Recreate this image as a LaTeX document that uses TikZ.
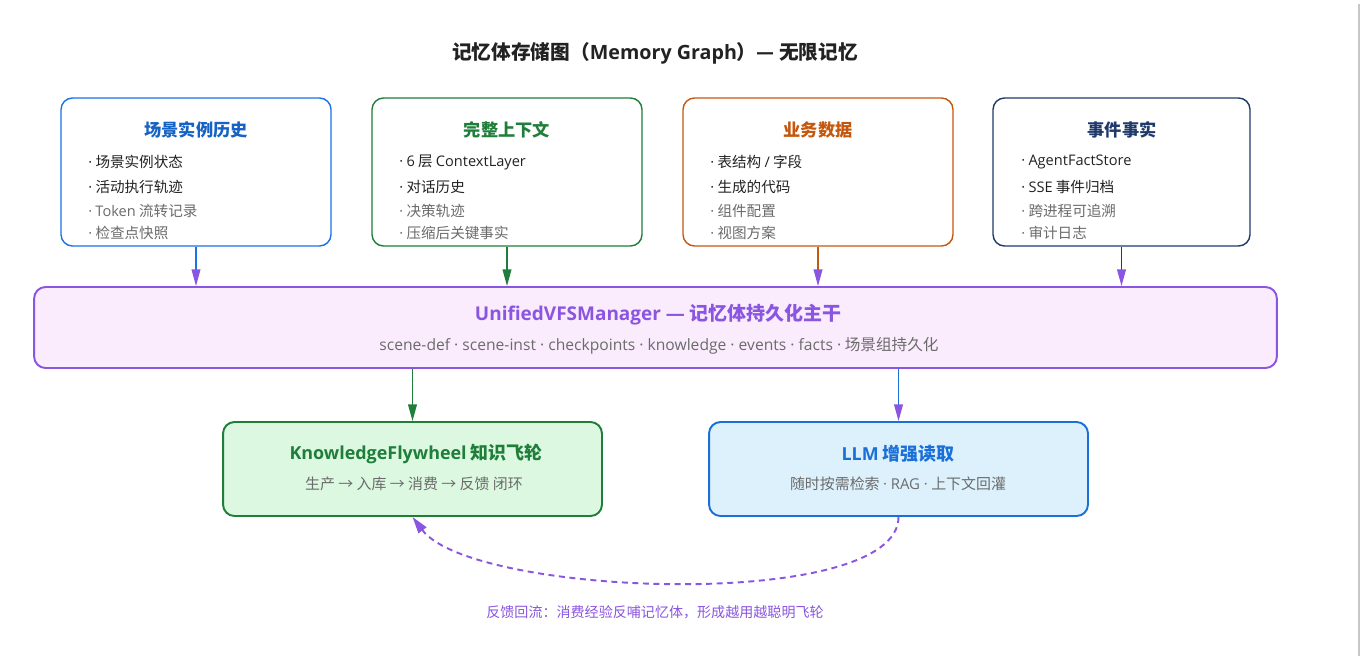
\documentclass[tikz,border=0pt]{standalone}
\usepackage{fontspec}
\setmainfont{Noto Sans CJK SC}
\newfontfamily\lat{Open Sans}
\usepackage{xcolor}
\usetikzlibrary{arrows.meta,positioning}

\definecolor{ink}{HTML}{222222}
\definecolor{mute}{HTML}{6B6B6B}
\definecolor{histC}{HTML}{1A73E8}
\definecolor{ctxC}{HTML}{1E7E3A}
\definecolor{bizC}{HTML}{C5580F}
\definecolor{factC}{HTML}{1F3A6B}
\definecolor{vfsC}{HTML}{8A55E0}
\definecolor{vfsF}{HTML}{FAEBFD}
\definecolor{flyF}{HTML}{DCF8E1}
\definecolor{llmC}{HTML}{1A6FD8}
\definecolor{llmF}{HTML}{DDF1FC}

% narrow latin middle dot
\newcommand{\md}{{\lat ·}}

\begin{document}
\begin{tikzpicture}[x=0.02cm,y=-0.02cm,
  card/.style={draw, rounded corners=6.5pt, line width=0.8pt, fill=white,
    minimum height=2.96cm, inner sep=0pt},
  ttl/.style={font=\bfseries\fontsize{9.8pt}{11pt}\selectfont, inner sep=0pt},
  item/.style={anchor=west, font=\fontsize{8.3pt}{10pt}\selectfont, inner sep=0pt},
  sub/.style={text=mute, font=\fontsize{8.5pt}{10pt}\selectfont, inner sep=0pt},
  feed/.style={line width=0.8pt},
  tipP/.style={-{Triangle[length=9.5pt,width=5pt,color=vfsC]}},
  tipG/.style={-{Triangle[length=9.5pt,width=5pt,color=ctxC]}},
  loopback/.style={vfsC, line width=1.1pt, dash pattern=on 3.4pt off 2.6pt}]

\useasboundingbox (0,0) rectangle (1364,656);
\fill[white] (0,0) rectangle (1364,656);
\draw[black!22, line width=0.6pt] (1359,4) -- (1359,656);

% title
\node[font=\bfseries\fontsize{11.2pt}{13pt}\selectfont, text=ink] (title) at (655,53) {记忆体存储图（{\lat Memory Graph}）— 无限记忆};

% four sources
\node[card, draw=histC, minimum width=5.4cm] (hist) at (196,172) {};
\node[card, draw=ctxC, minimum width=5.4cm] (ctx) at (507,172) {};
\node[card, draw=bizC, minimum width=5.4cm] (biz) at (818,172) {};
\node[card, draw=factC, minimum width=5.14cm] (fact) at (1121.5,172) {};

\node[ttl, text=histC!85!black] (histT) at (196,130) {场景实例历史};
\node[ttl, text=ctxC] (ctxT) at (507,130) {完整上下文};
\node[ttl, text=bizC] (bizT) at (818,130) {业务数据};
\node[ttl, text=factC] (factT) at (1122,130) {事件事实};

\foreach \t/\y/\c [count=\i] in {场景实例状态/162/ink, 活动执行轨迹/187/ink, {{\lat Token} 流转记录}/211/mute, 检查点快照/233/mute}
  \node[item, text=\c] (hist\i) at (88,\y) {\md\ \t};
\foreach \t/\y/\c [count=\i] in {{{\lat 6} 层 {\lat ContextLayer}}/162/ink, 对话历史/187/ink, 决策轨迹/211/mute, 压缩后关键事实/233/mute}
  \node[item, text=\c] (ctx\i) at (399,\y) {\md\ \t};
\foreach \t/\y/\c [count=\i] in {{表结构 {\lat /} 字段}/162/ink, 生成的代码/187/ink, 组件配置/211/mute, 视图方案/233/mute}
  \node[item, text=\c] (biz\i) at (710,\y) {\md\ \t};
\foreach \t/\y/\c [count=\i] in {{{\lat AgentFactStore}}/162/ink, {{\lat SSE} 事件归档}/187/ink, 跨进程可追溯/211/mute, 审计日志/233/mute}
  \node[item, text=\c] (fact\i) at (1021,\y) {\md\ \t};

% backbone
\node[card, draw=vfsC, fill=vfsF, line width=1.1pt, minimum width=24.86cm, minimum height=1.62cm] (vfs) at (655.5,327.5) {};
\node[ttl, text=vfsC, font=\bfseries\fontsize{10.8pt}{12pt}\selectfont] (vfsT) at (658,315) {{\lat UnifiedVFSManager —} 记忆体持久化主干};
\node[sub, font=\fontsize{8.9pt}{10pt}\selectfont] (vfsS) at (659,346) {{\lat scene-def \md\ scene-inst \md\ checkpoints \md\ knowledge \md\ events \md\ facts \md} 场景组持久化};

\foreach \n/\c/\s in {hist/histC/tipP, ctx/ctxC/tipG, biz/bizC/tipP, fact/factC/tipP}
  \draw[feed, \c, \s] (\n.south) -- (\n.south |- vfs.north);

% consumers
\node[card, draw=ctxC, fill=flyF, line width=1.1pt, minimum width=7.58cm, minimum height=1.88cm] (fly) at (412.5,469) {};
\node[ttl, text=ctxC, font=\bfseries\fontsize{10.2pt}{12pt}\selectfont] (flyT) at (416,454) {{\lat KnowledgeFlywheel} 知识飞轮};
\node[sub] (flyS) at (414,484) {生产 → 入库 → 消费 → 反馈 闭环};

\node[card, draw=llmC, fill=llmF, line width=1.1pt, minimum width=7.58cm, minimum height=1.88cm] (llm) at (898.5,469) {};
\node[ttl, text=llmC, font=\bfseries\fontsize{10.2pt}{12pt}\selectfont] (llmT) at (898,454) {{\lat LLM} 增强读取};
\node[sub] (llmS) at (898,484) {随时按需检索 {\lat \md\ RAG \md} 上下文回灌};

\draw[feed, ctxC, tipG] (fly.north |- vfs.south) -- (fly.north);
\draw[feed, llmC, tipP] (llm.north |- vfs.south) -- (llm.north);

% feedback loop
\draw[loopback, -{Triangle[length=9.5pt,width=5.5pt,color=vfsC]}] (llm.south) .. controls +(0,95) and +(60,80) .. (fly.south);
\node[text=vfsC, font=\fontsize{8pt}{10pt}\selectfont] (loopT) at (655,612) {反馈回流：消费经验反哺记忆体，形成越用越聪明飞轮};

\end{tikzpicture}
\end{document}
